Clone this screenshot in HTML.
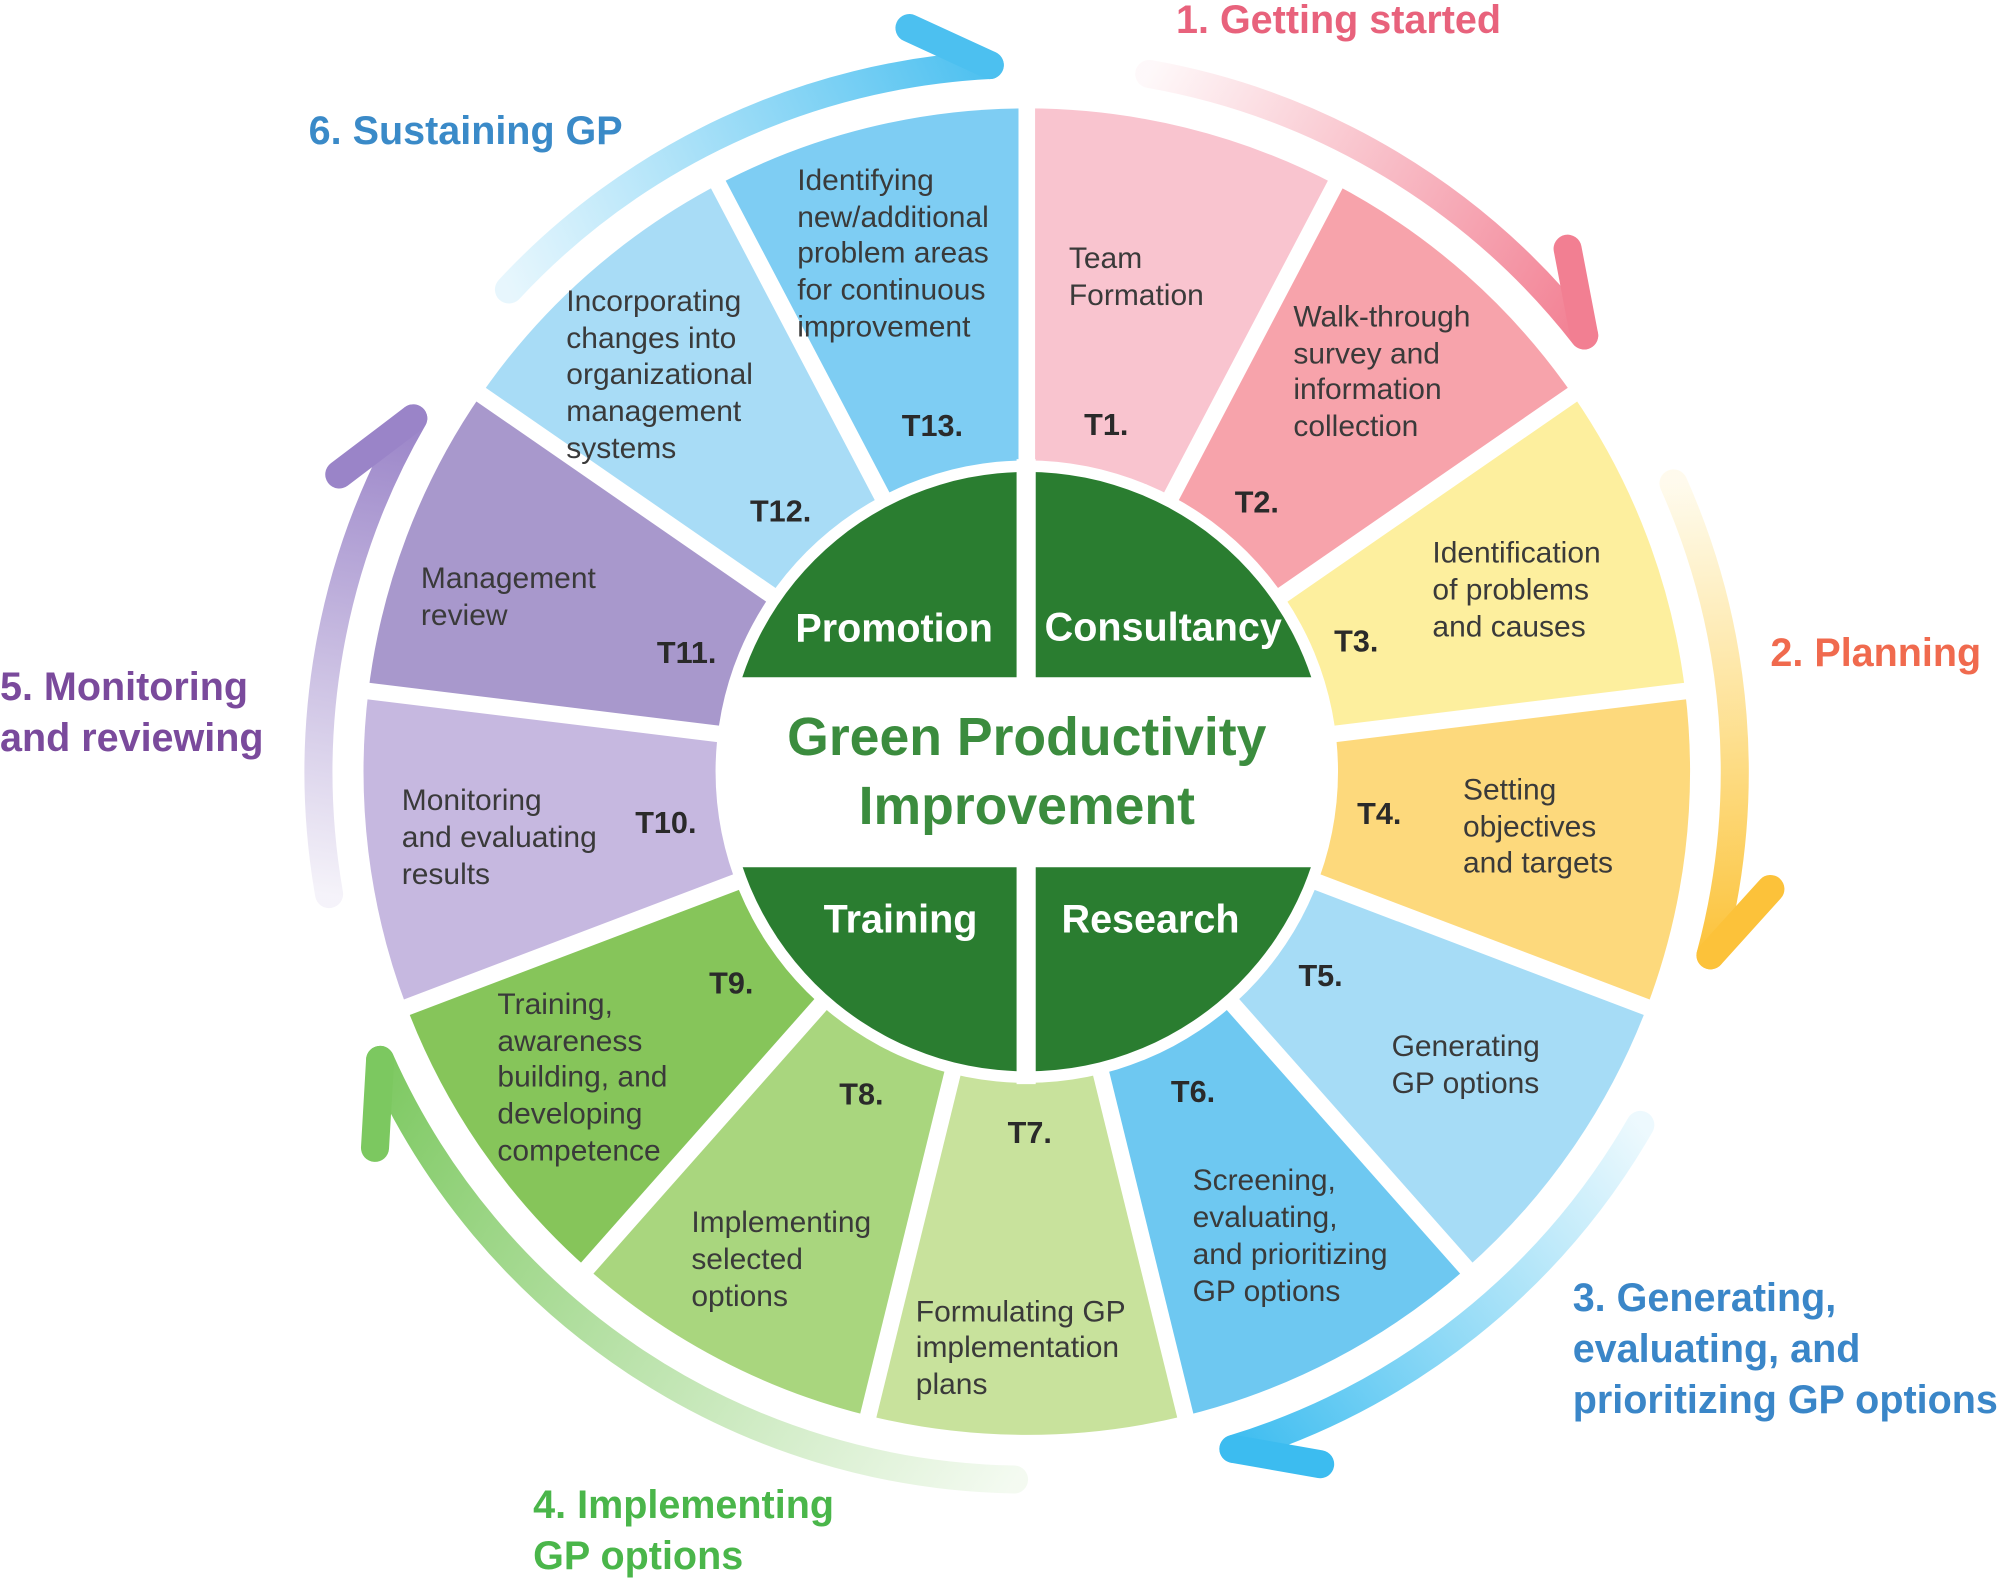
<!DOCTYPE html>
<html><head><meta charset="utf-8"><style>
html,body{margin:0;padding:0;background:#fff;}
svg{display:block;}
text{font-family:"Liberation Sans",sans-serif;}
.s{font-size:23.5px;fill:#3a3a3a;}
.t{font-size:24px;font-weight:bold;fill:#2a2a2a;}
.st{font-size:31px;font-weight:bold;}
.q{font-size:31px;font-weight:bold;fill:#fff;}
</style></head><body>
<svg width="2000" height="1579" viewBox="0 0 1568 1238" preserveAspectRatio="none" xmlns="http://www.w3.org/2000/svg">
<defs>
<linearGradient id="g1" gradientUnits="userSpaceOnUse" x1="901" y1="58" x2="1242" y2="263"><stop offset="0" stop-color="#f27f92" stop-opacity="0.05"/><stop offset="1" stop-color="#f27f92"/></linearGradient>
<linearGradient id="g2" gradientUnits="userSpaceOnUse" x1="1312" y1="379" x2="1341" y2="749"><stop offset="0" stop-color="#fcd24a" stop-opacity="0.1"/><stop offset="1" stop-color="#fcc23a"/></linearGradient>
<linearGradient id="g3" gradientUnits="userSpaceOnUse" x1="1286" y1="882" x2="967" y2="1136"><stop offset="0" stop-color="#4cc4f0" stop-opacity="0.1"/><stop offset="1" stop-color="#3cbcf0"/></linearGradient>
<linearGradient id="g4" gradientUnits="userSpaceOnUse" x1="795" y1="1160" x2="298" y2="831"><stop offset="0" stop-color="#8cd070" stop-opacity="0.1"/><stop offset="1" stop-color="#7cc860"/></linearGradient>
<linearGradient id="g5" gradientUnits="userSpaceOnUse" x1="258" y1="701" x2="324" y2="328"><stop offset="0" stop-color="#9a84c8" stop-opacity="0.1"/><stop offset="1" stop-color="#9a84c8"/></linearGradient>
<linearGradient id="g6" gradientUnits="userSpaceOnUse" x1="399" y1="227" x2="776" y2="51"><stop offset="0" stop-color="#5ec6f2" stop-opacity="0.15"/><stop offset="1" stop-color="#4cc0f0"/></linearGradient>
<clipPath id="band"><rect x="500" y="300" width="600" height="231"/><rect x="500" y="680" width="600" height="250"/></clipPath>
</defs>

<g fill="none" stroke-width="22" stroke-linecap="round">
<path d="M901,58 A555,555 0 0 1 1242,263" stroke="url(#g1)"/>
<path d="M1242,263 L1229,195" stroke="#f27f92"/>
<path d="M1312,379 A555,555 0 0 1 1341,749" stroke="url(#g2)"/>
<path d="M1341,749 L1388,697" stroke="#fcc23a"/>
<path d="M1286,882 A555,555 0 0 1 967,1136" stroke="url(#g3)"/>
<path d="M967,1136 L1035,1148" stroke="#3cbcf0"/>
<path d="M795,1160 A555,555 0 0 1 298,831" stroke="url(#g4)"/>
<path d="M298,831 L294,900" stroke="#7cc860"/>
<path d="M258,701 A555,555 0 0 1 324,328" stroke="url(#g5)"/>
<path d="M324,328 L266,372" stroke="#9a84c8"/>
<path d="M399,227 A555,555 0 0 1 776,51" stroke="url(#g6)"/>
<path d="M776,51 L713,22" stroke="#4cc0f0"/>
</g>

<g>
<path d="M805,605 L805,85 A520,520 0 0 1 1046.6,144.5 Z" fill="#f9c4cf"/>
<path d="M805,605 L1046.6,144.5 A520,520 0 0 1 1233,309.6 Z" fill="#f7a3ab"/>
<path d="M805,605 L1233,309.6 A520,520 0 0 1 1321.2,542.3 Z" fill="#fdef9e"/>
<path d="M805,605 L1321.2,542.3 A520,520 0 0 1 1291.2,789.4 Z" fill="#fdd97c"/>
<path d="M805,605 L1291.2,789.4 A520,520 0 0 1 1149.8,994.2 Z" fill="#a6dcf6"/>
<path d="M805,605 L1149.8,994.2 A520,520 0 0 1 929.4,1109.9 Z" fill="#6ec8f1"/>
<path d="M805,605 L929.4,1109.9 A520,520 0 0 1 680.6,1109.9 Z" fill="#c8e29c"/>
<path d="M805,605 L680.6,1109.9 A520,520 0 0 1 460.2,994.2 Z" fill="#a9d67e"/>
<path d="M805,605 L460.2,994.2 A520,520 0 0 1 318.8,789.4 Z" fill="#86c55a"/>
<path d="M805,605 L318.8,789.4 A520,520 0 0 1 288.8,542.3 Z" fill="#c6b8e0"/>
<path d="M805,605 L288.8,542.3 A520,520 0 0 1 377,309.6 Z" fill="#a898cc"/>
<path d="M805,605 L377,309.6 A520,520 0 0 1 563.4,144.5 Z" fill="#a8dcf6"/>
<path d="M805,605 L563.4,144.5 A520,520 0 0 1 805,85 Z" fill="#7ecdf3"/>
</g>
<g stroke="#fff" stroke-width="13">
<line x1="805" y1="605" x2="805" y2="70"/>
<line x1="805" y1="605" x2="1054" y2="131"/>
<line x1="805" y1="605" x2="1245" y2="301"/>
<line x1="805" y1="605" x2="1336" y2="540"/>
<line x1="805" y1="605" x2="1305" y2="795"/>
<line x1="805" y1="605" x2="1160" y2="1006"/>
<line x1="805" y1="605" x2="933" y2="1125"/>
<line x1="805" y1="605" x2="677" y2="1125"/>
<line x1="805" y1="605" x2="450" y2="1006"/>
<line x1="805" y1="605" x2="305" y2="795"/>
<line x1="805" y1="605" x2="274" y2="540"/>
<line x1="805" y1="605" x2="365" y2="301"/>
<line x1="805" y1="605" x2="556" y2="131"/>
</g>
<circle cx="805" cy="605" r="244" fill="#fff"/>
<circle cx="805" cy="605" r="235" fill="#2a7d30" clip-path="url(#band)"/>
<rect x="797" y="360" width="15" height="490" fill="#fff"/>

<text x="805" y="592" text-anchor="middle" font-size="42" font-weight="bold" fill="#3b8c3e">Green Productivity</text>
<text x="805" y="646" text-anchor="middle" font-size="42" font-weight="bold" fill="#3b8c3e">Improvement</text>
<text class="q" x="701" y="503" text-anchor="middle">Promotion</text>
<text class="q" x="912" y="502" text-anchor="middle">Consultancy</text>
<text class="q" x="706" y="731" text-anchor="middle">Training</text>
<text class="q" x="902" y="731" text-anchor="middle">Research</text>

<text class="s"><tspan x="838" y="210">Team</tspan><tspan x="838" y="239">Formation</tspan></text>
<text class="t" x="850" y="341">T1.</text>
<text class="s"><tspan x="1014" y="256">Walk-through</tspan><tspan x="1014" y="285">survey and</tspan><tspan x="1014" y="313">information</tspan><tspan x="1014" y="342">collection</tspan></text>
<text class="t" x="968" y="402">T2.</text>
<text class="s"><tspan x="1123" y="441">Identification</tspan><tspan x="1123" y="470">of problems</tspan><tspan x="1123" y="499">and causes</tspan></text>
<text class="t" x="1046" y="511">T3.</text>
<text class="s"><tspan x="1147" y="627">Setting</tspan><tspan x="1147" y="656">objectives</tspan><tspan x="1147" y="684">and targets</tspan></text>
<text class="t" x="1064" y="646">T4.</text>
<text class="t" x="1018" y="773">T5.</text>
<text class="s"><tspan x="1091" y="828">Generating</tspan><tspan x="1091" y="857">GP options</tspan></text>
<text class="t" x="918" y="864">T6.</text>
<text class="s"><tspan x="935" y="933">Screening,</tspan><tspan x="935" y="962">evaluating,</tspan><tspan x="935" y="991">and prioritizing</tspan><tspan x="935" y="1020">GP options</tspan></text>
<text class="t" x="790" y="896">T7.</text>
<text class="s"><tspan x="718" y="1036">Formulating GP</tspan><tspan x="718" y="1064">implementation</tspan><tspan x="718" y="1093">plans</tspan></text>
<text class="t" x="658" y="866">T8.</text>
<text class="s"><tspan x="542" y="966">Implementing</tspan><tspan x="542" y="995">selected</tspan><tspan x="542" y="1024">options</tspan></text>
<text class="t" x="556" y="779">T9.</text>
<text class="s"><tspan x="390" y="795">Training,</tspan><tspan x="390" y="824">awareness</tspan><tspan x="390" y="852">building, and</tspan><tspan x="390" y="881">developing</tspan><tspan x="390" y="910">competence</tspan></text>
<text class="s"><tspan x="315" y="635">Monitoring</tspan><tspan x="315" y="664">and evaluating</tspan><tspan x="315" y="693">results</tspan></text>
<text class="t" x="498" y="653">T10.</text>
<text class="s"><tspan x="330" y="461">Management</tspan><tspan x="330" y="490">review</tspan></text>
<text class="t" x="515" y="520">T11.</text>
<text class="s"><tspan x="444" y="244">Incorporating</tspan><tspan x="444" y="273">changes into</tspan><tspan x="444" y="301">organizational</tspan><tspan x="444" y="330">management</tspan><tspan x="444" y="359">systems</tspan></text>
<text class="t" x="588" y="409">T12.</text>
<text class="s"><tspan x="625" y="149">Identifying</tspan><tspan x="625" y="178">new/additional</tspan><tspan x="625" y="206">problem areas</tspan><tspan x="625" y="235">for continuous</tspan><tspan x="625" y="264">improvement</tspan></text>
<text class="t" x="707" y="342">T13.</text>

<text class="st" x="922" y="26" fill="#e8627c">1. Getting started</text>
<text class="st" x="1388" y="522" fill="#f06a4e">2. Planning</text>
<text class="st" fill="#3a86c8"><tspan x="1233" y="1028">3. Generating,</tspan><tspan x="1233" y="1068">evaluating, and</tspan><tspan x="1233" y="1108">prioritizing GP options</tspan></text>
<text class="st" fill="#4ab64a"><tspan x="418" y="1190">4. Implementing</tspan><tspan x="418" y="1230">GP options</tspan></text>
<text class="st" fill="#7a4a9c"><tspan x="0" y="549">5. Monitoring</tspan><tspan x="0" y="589">and reviewing</tspan></text>
<text class="st" x="242" y="113" fill="#3a8ac8">6. Sustaining GP</text>
</svg>
</body></html>
